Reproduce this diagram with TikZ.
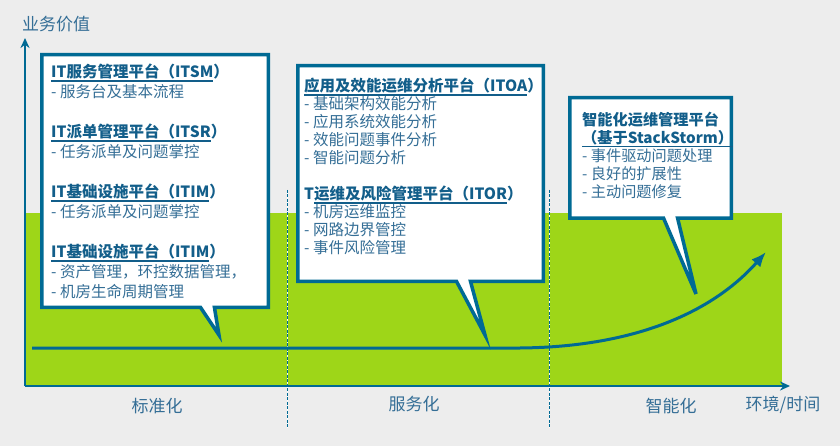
\documentclass[tikz,border=0pt]{standalone}
\usepackage{fontspec}
\newfontfamily\cjk{Noto Sans CJK SC}
\usetikzlibrary{shapes.callouts,arrows.meta,positioning}

\definecolor{bggray}{RGB}{237,237,237}
\definecolor{itblue}{RGB}{0,106,148}
\definecolor{ittitle}{RGB}{18,94,138}
\definecolor{ittext}{RGB}{52,110,150}
\definecolor{itgreen}{RGB}{158,214,24}

% underlined title part
\newcommand{\ulbar}[1]{\setbox0=\hbox{#1}\rlap{\vrule height -2.5pt depth 4pt width \wd0}\box0}
\newcommand{\hd}[3]{{\bfseries\color{ittitle}#1\ulbar{#2}#3}}

\begin{document}
\begin{tikzpicture}[x=1pt, y=-1pt,
    bubble/.style={rectangle callout, draw=itblue, line width=3.5pt, fill=white, callout pointer width=14pt},
    info/.style={anchor=north west, inner sep=0pt, align=left, text=ittext, font=\cjk\fontsize{15.5}{#1}\selectfont},
    stage/.style={text=ittext, inner sep=0pt, font=\cjk\fontsize{17}{17}\selectfont},
    axis/.style={itblue, line width=2.5pt, -{Stealth[length=10pt,width=9pt]}},
    sep/.style={itblue, line width=0.8pt, dash pattern=on 3pt off 1.5pt, preaction={draw=white, solid, line width=1pt}},
    trend/.style={itblue, line width=3pt, -{Latex[length=15pt,width=12pt]}}
]
    \fill[bggray] (0,0) rectangle (840,446);
    \useasboundingbox (0,0) rectangle (840,446);

    % value band
    \fill[itgreen] (25,213) rectangle (782,386);

    % stage separators
    \coordinate (s1top) at (287,190);
    \coordinate (s1bot) at (287,428);
    \coordinate (s2top) at (549,190);
    \coordinate (s2bot) at (549,428);
    \draw[sep] (s1top) -- (s1bot);
    \draw[sep] (s2top) -- (s2bot);

    % axes
    \coordinate (O) at (25,386);
    \coordinate (ytop) at (25,38);
    \coordinate (xend) at (790,386);
    \draw[axis] (O) -- (ytop);
    \draw[axis] (O) -- (xend);

    \node[stage] (yname) at (56,24) {业务价值};
    \node[stage] (xname) at (783,405) {环境/时间};
    \node[stage] (std) at (157,406) {标准化};
    \node[stage] (svc) at (414,404) {服务化};
    \node[stage] (intel) at (671,406) {智能化};

    % trend curve
    \coordinate (t0) at (32,348);
    \coordinate (t1) at (520,348);
    \coordinate (t2) at (766,252);
    \draw[trend] (t0) -- (t1) .. controls (630,347) and (710,315) .. (t2);

    % callouts
    \node[bubble, minimum width=226.5pt, minimum height=252.5pt, callout absolute pointer={(219,335)}] (itsm) at (155,181) {};
    \node[bubble, minimum width=245.5pt, minimum height=215.5pt, callout absolute pointer={(485,335)}] (itoa) at (420.5,173.5) {};
    \node[bubble, minimum width=161.5pt, minimum height=120.5pt, callout absolute pointer={(696,294)}] (st2) at (650.5,158) {};

    \node[info=20] (itsmtxt) at (51,63.8) {\hd{}{IT服务管理平台（ITSM}{）}\\
        - 服务台及基本流程\\[20pt]
        \hd{}{IT派单管理平台（ITSR}{）}\\
        - 任务派单及问题掌控\\[20pt]
        \hd{}{IT基础设施平台（ITIM}{）}\\
        - 任务派单及问题掌控\\[20pt]
        \hd{}{IT基础设施平台（ITIM}{）}\\
        - 资产管理，环控数据管理，\\
        - 机房生命周期管理};

    \node[info=18] (itoatxt) at (304,77.8) {\hd{}{应用及效能运维分析平台（ITOA}{）}\\
        - 基础架构效能分析\\
        - 应用系统效能分析\\
        - 效能问题事件分析\\
        - 智能问题分析\\[18pt]
        \hd{T}{运维及风险管理平台（ITOR}{）}\\
        - 机房运维监控\\
        - 网路边界管控\\
        - 事件风险管理};

    \node[info=18, font=\cjk\fontsize{15.2}{18}\selectfont] (st2txt) at (582,111.8) {\hd{智能化运维管理平台}{}{}\\
        \hd{}{（基于StackStorm）}{}\\
        - 事件驱动问题处理\\
        - 良好的扩展性\\
        - 主动问题修复};
\end{tikzpicture}
\end{document}
